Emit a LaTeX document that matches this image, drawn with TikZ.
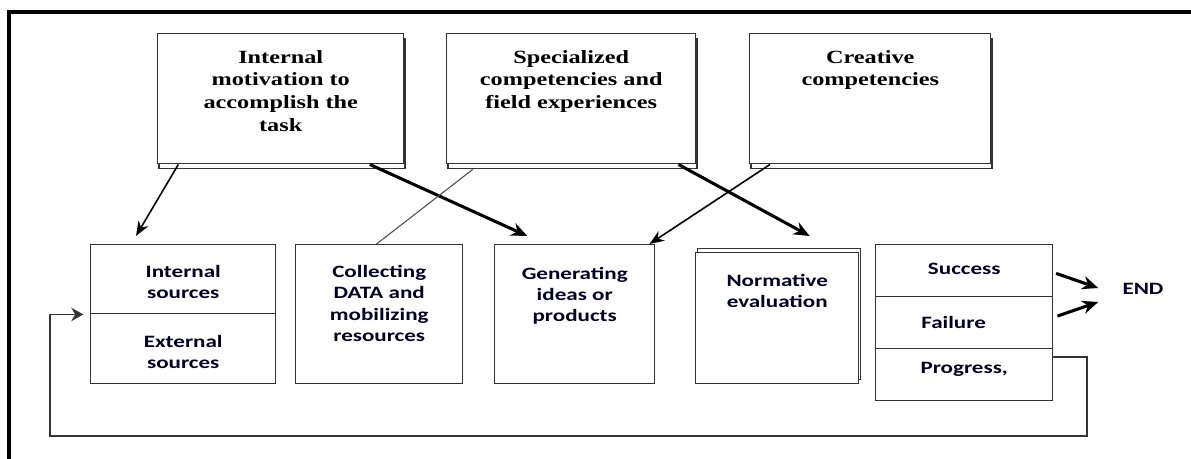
\documentclass[tikz,border=0pt]{standalone}
\usepackage{fontspec}
\usetikzlibrary{arrows.meta,shadows}
\newfontfamily\headfont[FakeStretch=1.3]{Liberation Serif}
\newfontfamily\boxfont[FakeStretch=1.33]{Carlito}

\tikzset{
  topbox/.style={draw=black!80, line width=1.1pt, fill=white, inner sep=0pt, anchor=north west,
    copy shadow={shadow xshift=0.8pt, shadow yshift=-3.5pt, draw=black!80, fill=white, line width=1.1pt}},
  stagebox/.style={draw=black!80, line width=1.1pt, fill=white, inner sep=0pt, anchor=north west},
  toptext/.style={font=\headfont\bfseries\fontsize{14}{17}\selectfont, align=center, inner sep=0pt, anchor=north},
  boxtext/.style={font=\boxfont\bfseries\fontsize{13}{16}\selectfont, align=center, inner sep=0pt, anchor=north, text=black!85!blue},
  arr/.style={-{Stealth[length=11pt,width=8.5pt]}, line width=1.2pt},
  thickarr/.style={-{Stealth[length=12pt,width=10pt]}, line width=2.3pt},
  plain/.style={draw=black!70, line width=0.8pt},
  fb/.style={draw=black!80, line width=1.3pt, -{Stealth[length=9pt,width=10pt]}, shorten >=5pt}
}

\begin{document}
\begin{tikzpicture}[x=0.75pt,y=-0.75pt]
	\useasboundingbox (0,0) rectangle (1191,459);
	
	%Frame
	\draw [line width=2.6pt]  (9,459) -- (9,12) -- (1191,12) ;
	
	%Shape: Rectangle (top row)
	\node [topbox, minimum width=184.5pt, minimum height=97.5pt] (motiv) at (157,33) {};
	\node [topbox, minimum width=186.75pt, minimum height=97.5pt] (spec) at (446,33) {};
	\node [topbox, minimum width=180.75pt, minimum height=97.5pt] (crea) at (749,33) {};
	
	% Text Node
	\node [toptext] (motivT) at ([yshift=-12.75pt]motiv.north) {Internal\\motivation to\\accomplish the\\task};
	% Text Node
	\node [toptext] (specT) at ([yshift=-12.75pt]spec.north) {Specialized\\competencies and\\field experiences};
	% Text Node
	\node [toptext] (creaT) at ([yshift=-12.75pt]crea.north) {Creative\\competencies};
	
	%Shape: Rectangle (stages)
	\node [stagebox, minimum width=138.75pt, minimum height=51.75pt] (intsrc) at (90,244) {};
	\node [stagebox, minimum width=138.75pt, minimum height=52.5pt] (extsrc) at (90,313) {};
	\node [stagebox, minimum width=125.25pt, minimum height=104.25pt] (coll) at (295,244) {};
	\node [stagebox, minimum width=120pt, minimum height=104.25pt] (gen) at (494,244) {};
	\node [stagebox, minimum width=122.25pt, minimum height=98.25pt,
	  copy shadow={shadow xshift=1.5pt, shadow yshift=3pt, draw=black!80, fill=white, line width=1.1pt}] (norm) at (695,252) {};
	\node [stagebox, minimum width=132.75pt, minimum height=39pt] (succ) at (875,244) {};
	\node [stagebox, minimum width=132.75pt, minimum height=39pt] (fail) at (875,296) {};
	\node [stagebox, minimum width=132.75pt, minimum height=39pt] (prog) at (875,348) {};
	
	% Text Node
	\node [boxtext] (intsrcT) at ([yshift=-15.75pt]intsrc.north) {Internal\\sources};
	\node [boxtext] (extsrcT) at ([yshift=-16.5pt]extsrc.north) {External\\sources};
	\node [boxtext] (collT) at ([yshift=-15.75pt]coll.north) {Collecting\\DATA and\\mobilizing\\resources};
	\node [boxtext] (genT) at ([yshift=-17pt]gen.north) {Generating\\ideas or\\products};
	\node [boxtext] (normT) at ([yshift=-16.5pt]norm.north) {Normative\\evaluation};
	\node [boxtext] (succT) at ([yshift=-14.25pt]succ.north) {Success};
	\node [boxtext] (failT) at ([xshift=-8pt,yshift=-15pt]fail.north) {Failure};
	\node [boxtext] (progT) at ([yshift=-10.5pt]prog.north) {Progress,};
	\node [boxtext, anchor=center] (fin) at (1143,289) {END};
	
	%Straight Lines
	\draw [arr] ([xshift=16pt]motiv.south west) -- ([xshift=34.5pt,yshift=6pt]intsrc.north west) ;
	\draw [thickarr] ([xshift=-26pt]motiv.south east) -- ([xshift=25pt,yshift=6pt]gen.north west) ;
	\draw [plain] ([xshift=20pt,yshift=-3.75pt]spec.south west) -- ([xshift=-2pt]coll.north) ;
	\draw [thickarr] ([xshift=-13.5pt]spec.south east) -- ([xshift=86pt,yshift=12pt]norm.north west) ;
	\draw [arr] ([xshift=15.75pt]crea.south west) -- ([xshift=-4.5pt]gen.north east) ;
	\draw [thickarr] ([xshift=2pt,yshift=-2pt]succ.east) -- ([xshift=-18pt,yshift=0.75pt]fin.west) ;
	\draw [thickarr] ([xshift=3pt,yshift=5pt]fail.east) -- ([xshift=-18pt,yshift=-9.75pt]fin.west) ;
	
	%Feedback loop
	\coordinate (loopR) at (1087,436);
	\coordinate (loopL) at (50,436);
	\draw [fb] ([yshift=13.5pt]prog.east) -| (loopR) -- (loopL) |- (intsrc.south west) ;
	
\end{tikzpicture}
\end{document}
